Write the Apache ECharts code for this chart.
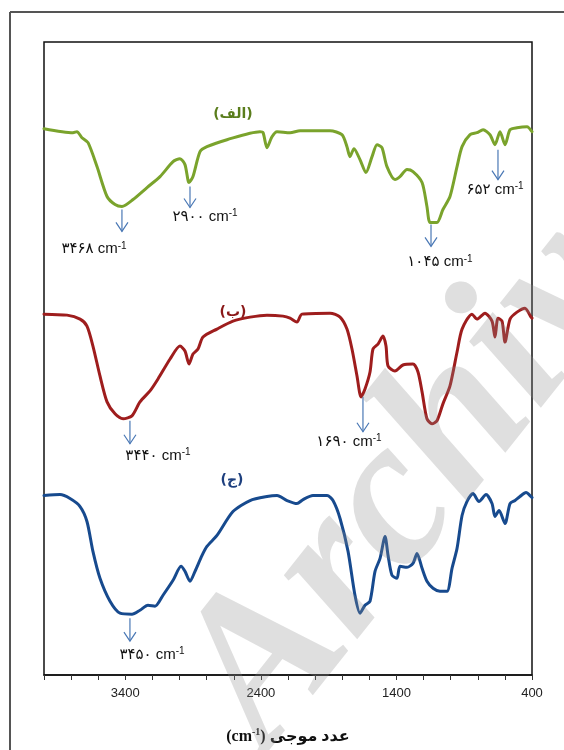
<!DOCTYPE html>
<html><head><meta charset="utf-8">
<script src="https://cdn.jsdelivr.net/npm/echarts@6/dist/echarts.min.js"></script>
<style>html,body{margin:0;padding:0;background:#fff}#c{width:564px;height:750px}</style>
</head><body><div id="c"></div>
<script>
// Wavenumber (cm-1) vs transmittance (arbitrary, offset units)
const greenData = [[4000,548],[3786,544],[3757,545],[3720,539],[3675,534],[3609,510],[3535,480],[3476,472],[3425,470],[3343,477],[3240,489],[3144,500],[3048,515],[2997,518],[2960,512],[2930,494],[2901,500],[2849,525],[2798,530],[2650,537],[2407,545],[2384,544],[2355,529],[2318,540],[2281,545],[2185,544],[2111,546],[1890,546],[1802,542],[1765,530],[1743,520],[1713,528],[1669,517],[1625,504],[1580,520],[1543,532],[1507,529],[1470,510],[1411,497],[1374,500],[1322,507],[1278,505],[1211,494],[1175,470],[1152,454],[1101,454],[1057,467],[1005,480],[953,510],[916,530],[857,542],[806,544],[761,547],[710,542],[673,532],[636,545],[599,532],[562,547],[511,549],[437,550],[400,545]];
const redData = [[4000,362],[3830,361],[3734,357],[3683,350],[3639,330],[3587,300],[3535,274],[3476,262],[3417,257],[3351,260],[3292,274],[3218,285],[3159,297],[3070,317],[2997,330],[2960,325],[2930,312],[2901,322],[2864,327],[2827,339],[2724,347],[2606,355],[2480,359],[2355,361],[2237,360],[2185,358],[2134,354],[2097,362],[1890,363],[1816,359],[1765,347],[1728,327],[1691,300],[1661,279],[1632,287],[1595,304],[1573,327],[1536,332],[1499,340],[1477,330],[1462,310],[1411,305],[1352,311],[1278,312],[1241,304],[1211,284],[1175,257],[1138,252],[1101,255],[1057,272],[1005,290],[953,324],[916,347],[843,362],[806,357],[747,363],[695,355],[673,339],[651,358],[621,355],[599,334],[562,357],[511,364],[452,368],[407,359],[400,358]];
const blueData = [[4000,180],[3882,181],[3808,177],[3734,169],[3683,154],[3639,124],[3587,97],[3513,74],[3439,62],[3351,61],[3292,65],[3233,70],[3181,69],[3122,80],[3048,95],[2989,109],[2960,104],[2923,94],[2886,104],[2834,120],[2798,129],[2724,140],[2606,164],[2480,175],[2355,179],[2281,180],[2207,175],[2134,172],[2089,176],[2016,180],[1912,180],[1868,175],[1816,157],[1757,124],[1706,80],[1669,62],[1632,70],[1595,74],[1558,104],[1521,117],[1484,139],[1462,120],[1433,100],[1396,97],[1374,109],[1322,108],[1278,112],[1248,122],[1211,107],[1175,94],[1130,87],[1079,84],[1027,84],[990,107],[953,127],[916,160],[880,174],[835,182],[791,174],[739,181],[695,172],[673,159],[643,165],[599,152],[562,172],[525,175],[489,179],[444,183],[407,179],[400,178]];

const xTickLabels = [3400, 2400, 1400, 400];
const seriesNames = ['(الف)', '(ب)', '(ج)'];
const seriesNameWn = [2606, 2606, 2613];
const seriesNameY = [562, 364, 195];

const peakDigits = ['۳۴۶۸','۲۹۰۰','۱۰۴۵','۶۵۲','۳۴۴۰','۱۶۹۰','۳۴۵۰'];
const peakArrowWn = [3425, 2923, 1145, 651, 3366, 1647, 3366];
const peakArrowTop = [467, 490, 452, 527, 255, 279, 57];
const peakArrowBottom = [445, 469, 430, 497, 232, 244, 34];
const peakLabelWn = [3631, 2812, 1079, 673, 3159, 1750, 3203];
const peakLabelY = [427, 460, 414, 487, 220, 234, 20];

const colors = ['#7aa32c', '#9e1d1d', '#174a8e'];
const nameColors = ['#5a7d1c', '#8a1818', '#1d3f7e'];

const chart = echarts.init(document.getElementById('c'), null, {renderer: 'canvas'});

function lineSeries(data, color) {
  return {type: 'line', data: data, showSymbol: false, smooth: 0.25,
    lineStyle: {color: color, width: 3, cap: 'round', join: 'round'}, z: 3, silent: true};
}

const option = {
  animation: false,
  backgroundColor: '#fff',
  grid: {left: 44, right: 32, top: 42, bottom: 73, show: true, borderColor: '#111', borderWidth: 1.5, backgroundColor: 'transparent'},
  xAxis: {
    type: 'value', inverse: true, min: 400, max: 4000, interval: 200,
    axisLine: {show: true, onZero: false, lineStyle: {color: '#111', width: 1.5}},
    axisTick: {show: true, length: 5, lineStyle: {color: '#333', width: 1}},
    splitLine: {show: false},
    axisLabel: {margin: 12, fontSize: 13, color: '#222', fontFamily: 'Liberation Sans',
      showMinLabel: true, showMaxLabel: true,
      formatter: v => xTickLabels.includes(v) ? String(v) : ''},
    name: '{a|(cm}{s|-1}{a|) عدد موجی}',
    nameLocation: 'middle', nameGap: 52,
    nameTextStyle: {
      rich: {
        a: {fontSize: 16, fontWeight: 'bold', fontFamily: 'Liberation Serif, DejaVu Sans', color: '#111', lineHeight: 20},
        s: {fontSize: 10, fontWeight: 'bold', fontFamily: 'Liberation Serif', color: '#111', verticalAlign: 'top', lineHeight: 12}
      }
    }
  },
  yAxis: {type: 'value', min: 0, max: 635, show: false},
  series: [
    lineSeries(greenData, colors[0]),
    lineSeries(redData, colors[1]),
    lineSeries(blueData, colors[2]),
    {
      type: 'custom', z: 5, silent: true,
      data: peakArrowWn.map((w, i) => [w, peakArrowTop[i]]),
      renderItem: function (params, api) {
        const i = params.dataIndex;
        const top = api.coord([peakArrowWn[i], peakArrowTop[i]]);
        const bot = api.coord([peakArrowWn[i], peakArrowBottom[i]]);
        const lab = api.coord([peakLabelWn[i], peakLabelY[i]]);
        const stroke = '#4a78b5';
        return {type: 'group', children: [
          {type: 'line', shape: {x1: top[0], y1: top[1], x2: bot[0], y2: bot[1]}, style: {stroke: stroke, lineWidth: 1.2}},
          {type: 'polyline', shape: {points: [[bot[0] - 6, bot[1] - 9], [bot[0], bot[1]], [bot[0] + 6, bot[1] - 9]]}, style: {stroke: stroke, lineWidth: 1.2, fill: null}},
          {type: 'text', style: {x: lab[0], y: lab[1], align: 'center', verticalAlign: 'middle',
            text: '{n|' + peakDigits[i] + ' cm}{s|-1}',
            rich: {
              n: {fontSize: 15, fontFamily: 'Liberation Sans, DejaVu Sans', fill: '#111', lineHeight: 17},
              s: {fontSize: 10, fontFamily: 'Liberation Sans', fill: '#111', verticalAlign: 'top', lineHeight: 11}
            }}}
        ]};
      }
    },
    {
      type: 'custom', z: 5, silent: true,
      data: seriesNameWn.map((w, i) => [w, seriesNameY[i]]),
      renderItem: function (params, api) {
        const i = params.dataIndex;
        const p = api.coord([seriesNameWn[i], seriesNameY[i]]);
        return {type: 'text', style: {x: p[0], y: p[1], align: 'center', verticalAlign: 'middle',
          text: seriesNames[i], fill: nameColors[i],
          font: 'bold 14px "DejaVu Sans", "Liberation Sans"'}};
      }
    }
  ],
  graphic: [
    {type: 'line', shape: {x1: 10, y1: 12, x2: 564, y2: 12}, style: {stroke: '#555', lineWidth: 2}, z: 1},
    {type: 'line', shape: {x1: 10, y1: 12, x2: 10, y2: 750}, style: {stroke: '#555', lineWidth: 2}, z: 1},
    {type: 'text', x: 436, y: 452, rotation: 0.9, z: 100, silent: true,
      style: {text: 'Archive', align: 'center', verticalAlign: 'middle',
        font: 'italic bold 212px "Liberation Serif"', fill: 'rgba(140,140,140,0.28)'}}
  ]
};
chart.setOption(option);
</script>
</body></html>
